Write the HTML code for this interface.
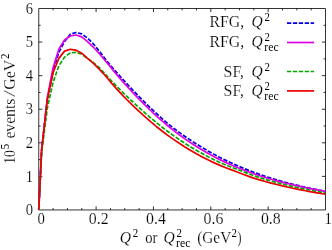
<!DOCTYPE html>
<html><head><meta charset="utf-8"><title>plot</title>
<style>html,body{margin:0;padding:0;background:#fff;}body{width:332px;height:250px;overflow:hidden;position:relative;font-family:"Liberation Serif",serif;}</style>
</head><body>
<svg width="332" height="250" viewBox="0 0 332 250" style="position:absolute;left:0;top:0;will-change:transform">
<rect width="332" height="250" fill="#fff"/>
<path d="M38.75 8.50 H325.50 V209.95 H38.75 Z M53.09 209.95 v-1.9 M53.09 8.50 v1.9 M67.42 209.95 v-1.9 M67.42 8.50 v1.9 M81.76 209.95 v-1.9 M81.76 8.50 v1.9 M96.10 209.95 v-3.6 M96.10 8.50 v3.6 M110.44 209.95 v-1.9 M110.44 8.50 v1.9 M124.78 209.95 v-1.9 M124.78 8.50 v1.9 M139.11 209.95 v-1.9 M139.11 8.50 v1.9 M153.45 209.95 v-3.6 M153.45 8.50 v3.6 M167.79 209.95 v-1.9 M167.79 8.50 v1.9 M182.12 209.95 v-1.9 M182.12 8.50 v1.9 M196.46 209.95 v-1.9 M196.46 8.50 v1.9 M210.80 209.95 v-3.6 M210.80 8.50 v3.6 M225.14 209.95 v-1.9 M225.14 8.50 v1.9 M239.47 209.95 v-1.9 M239.47 8.50 v1.9 M253.81 209.95 v-1.9 M253.81 8.50 v1.9 M268.15 209.95 v-3.6 M268.15 8.50 v3.6 M282.49 209.95 v-1.9 M282.49 8.50 v1.9 M296.82 209.95 v-1.9 M296.82 8.50 v1.9 M311.16 209.95 v-1.9 M311.16 8.50 v1.9 M38.75 193.16 h1.9 M325.50 193.16 h-1.9 M38.75 176.38 h3.6 M325.50 176.38 h-3.6 M38.75 159.59 h1.9 M325.50 159.59 h-1.9 M38.75 142.80 h3.6 M325.50 142.80 h-3.6 M38.75 126.01 h1.9 M325.50 126.01 h-1.9 M38.75 109.23 h3.6 M325.50 109.23 h-3.6 M38.75 92.44 h1.9 M325.50 92.44 h-1.9 M38.75 75.65 h3.6 M325.50 75.65 h-3.6 M38.75 58.86 h1.9 M325.50 58.86 h-1.9 M38.75 42.07 h3.6 M325.50 42.07 h-3.6 M38.75 25.29 h1.9 M325.50 25.29 h-1.9" stroke="#000" stroke-width="0.80" fill="none"/>
<g fill="none" stroke-width="1.70" stroke-linejoin="round">
<path d="M38.75 209.80 L41.62 150.00 L47.35 99.47 L53.09 70.72 L58.82 52.38 L64.56 41.46 L70.29 34.30 L76.03 32.50 L81.76 33.90 L87.50 38.00 L93.23 43.80 L98.97 50.73 L104.70 58.30 L110.44 65.32 L116.17 71.90 L121.91 78.31 L127.64 84.66 L133.38 90.72 L139.11 96.67 L144.85 102.46 L150.58 108.02 L156.32 113.40 L162.05 118.57 L167.79 123.51 L173.52 128.10 L179.26 132.38 L184.99 136.45 L190.73 140.32 L196.46 144.00 L202.20 147.52 L207.93 150.91 L213.67 154.13 L219.40 157.18 L225.14 160.07 L230.87 162.80 L236.61 165.39 L242.34 167.83 L248.08 170.15 L253.81 172.33 L259.55 174.39 L265.28 176.34 L271.02 178.17 L276.75 179.90 L282.49 181.53 L288.22 183.07 L293.96 184.54 L299.69 185.93 L305.43 187.26 L311.16 188.50 L316.90 189.67 L322.63 190.77 L325.50 191.30" stroke="#0000e2" stroke-dasharray="4.3 1.6"/>
<path d="M38.75 209.80 L41.62 150.00 L47.35 97.47 L53.09 67.72 L58.82 49.18 L64.56 39.96 L70.29 36.00 L76.03 35.01 L81.76 36.87 L87.50 41.55 L93.23 47.03 L98.97 53.24 L104.70 59.93 L110.44 66.91 L116.17 73.90 L121.91 80.63 L127.64 87.02 L133.38 93.18 L139.11 99.16 L144.85 104.94 L150.58 110.50 L156.32 115.82 L162.05 120.90 L167.79 125.74 L173.52 130.34 L179.26 134.71 L184.99 138.85 L190.73 142.78 L196.46 146.49 L202.20 150.00 L207.93 153.31 L213.67 156.43 L219.40 159.37 L225.14 162.14 L230.87 164.75 L236.61 167.21 L242.34 169.53 L248.08 171.71 L253.81 173.76 L259.55 175.69 L265.28 177.51 L271.02 179.22 L276.75 180.84 L282.49 182.36 L288.22 183.80 L293.96 185.16 L299.69 186.44 L305.43 187.66 L311.16 188.81 L316.90 189.90 L322.63 190.93 L325.50 191.43" stroke="#e000e4"/>
<path d="M38.75 209.80 L41.62 153.00 L47.35 107.97 L53.09 82.34 L58.82 65.88 L64.56 57.10 L70.29 52.89 L76.03 52.31 L81.76 54.30 L87.50 58.31 L93.23 62.42 L98.97 67.46 L104.70 73.38 L110.44 79.78 L116.17 85.79 L121.91 91.59 L127.64 97.16 L133.38 102.50 L139.11 107.72 L144.85 112.84 L150.58 117.78 L156.32 122.53 L162.05 127.09 L167.79 131.46 L173.52 135.62 L179.26 139.59 L184.99 143.37 L190.73 146.95 L196.46 150.36 L202.20 153.58 L207.93 156.64 L213.67 159.53 L219.40 162.26 L225.14 164.71 L230.87 167.02 L236.61 169.17 L242.34 171.33 L248.08 173.53 L253.81 175.63 L259.55 177.61 L265.28 179.36 L271.02 181.01 L276.75 182.57 L282.49 184.04 L288.22 185.45 L293.96 186.77 L299.69 188.04 L305.43 189.24 L311.16 190.38 L316.90 191.47 L322.63 192.50 L325.50 193.00" stroke="#00aa00" stroke-dasharray="4.3 1.6"/>
<path d="M38.75 209.80 L41.62 150.00 L47.35 99.22 L53.09 72.71 L58.82 58.37 L64.56 51.15 L70.29 49.29 L76.03 50.17 L81.76 53.17 L87.50 58.43 L93.23 63.21 L98.97 68.85 L104.70 75.00 L110.44 81.82 L116.17 88.33 L121.91 94.56 L127.64 100.47 L133.38 106.07 L139.11 111.46 L144.85 116.69 L150.58 121.69 L156.32 126.46 L162.05 131.00 L167.79 135.32 L173.52 139.42 L179.26 143.31 L184.99 147.00 L190.73 150.49 L196.46 153.79 L202.20 156.90 L207.93 159.85 L213.67 162.62 L219.40 165.13 L225.14 167.47 L230.87 169.65 L236.61 171.79 L242.34 174.00 L248.08 176.11 L253.81 178.09 L259.55 179.87 L265.28 181.51 L271.02 183.06 L276.75 184.52 L282.49 185.91 L288.22 187.22 L293.96 188.46 L299.69 189.63 L305.43 190.74 L311.16 191.79 L316.90 192.79 L322.63 193.74 L325.50 194.19" stroke="#ec0000"/>
</g>
<path d="M287.0 23.1 H314.1" stroke="#0000e2" stroke-width="1.70" fill="none" stroke-dasharray="4.3 1.6"/>
<path d="M287.0 42.5 H314.1" stroke="#e000e4" stroke-width="1.70" fill="none"/>
<path d="M287.0 71.5 H314.1" stroke="#00aa00" stroke-width="1.70" fill="none" stroke-dasharray="4.3 1.6"/>
<path d="M287.0 90.9 H314.1" stroke="#ec0000" stroke-width="1.70" fill="none"/>
<g font-family="'Liberation Serif', serif" fill="#000" stroke="#fff" stroke-width="0.18">
<text x="25.8" y="215.0" font-size="16.0" textLength="7.3" lengthAdjust="spacingAndGlyphs">0</text>
<text x="25.8" y="181.5" font-size="16.0" textLength="7.3" lengthAdjust="spacingAndGlyphs">1</text>
<text x="25.8" y="147.9" font-size="16.0" textLength="7.3" lengthAdjust="spacingAndGlyphs">2</text>
<text x="25.8" y="114.3" font-size="16.0" textLength="7.3" lengthAdjust="spacingAndGlyphs">3</text>
<text x="25.8" y="80.8" font-size="16.0" textLength="7.3" lengthAdjust="spacingAndGlyphs">4</text>
<text x="25.8" y="47.2" font-size="16.0" textLength="7.3" lengthAdjust="spacingAndGlyphs">5</text>
<text x="25.8" y="13.6" font-size="16.0" textLength="7.3" lengthAdjust="spacingAndGlyphs">6</text>
<text x="37.6" y="223.9" font-size="16.0" textLength="7.4" lengthAdjust="spacingAndGlyphs">0</text>
<text x="88.8" y="223.9" font-size="16.0" textLength="19.8" lengthAdjust="spacingAndGlyphs">0.2</text>
<text x="146.1" y="223.9" font-size="16.0" textLength="19.8" lengthAdjust="spacingAndGlyphs">0.4</text>
<text x="203.5" y="223.9" font-size="16.0" textLength="19.8" lengthAdjust="spacingAndGlyphs">0.6</text>
<text x="260.9" y="223.9" font-size="16.0" textLength="19.8" lengthAdjust="spacingAndGlyphs">0.8</text>
<text x="324.4" y="223.9" font-size="16.0" textLength="7.4" lengthAdjust="spacingAndGlyphs">1</text>
<text x="209.6" y="27.0" font-size="16.0" textLength="34.6" lengthAdjust="spacingAndGlyphs">RFG,</text>
<text x="209.6" y="47.0" font-size="16.0" textLength="34.6" lengthAdjust="spacingAndGlyphs">RFG,</text>
<text x="223.6" y="76.5" font-size="16.0" textLength="20.4" lengthAdjust="spacingAndGlyphs">SF,</text>
<text x="223.6" y="96.0" font-size="16.0" textLength="20.4" lengthAdjust="spacingAndGlyphs">SF,</text>
<text x="251.6" y="27.0" font-size="16.0" font-style="italic" textLength="11.2" lengthAdjust="spacingAndGlyphs">Q</text>
<text x="264.6" y="21.0" font-size="12.0" textLength="5.4" lengthAdjust="spacingAndGlyphs" stroke="none">2</text>
<text x="251.6" y="47.0" font-size="16.0" font-style="italic" textLength="11.2" lengthAdjust="spacingAndGlyphs">Q</text>
<text x="264.6" y="41.0" font-size="12.0" textLength="5.4" lengthAdjust="spacingAndGlyphs" stroke="none">2</text>
<text x="264.3" y="50.7" font-size="11.5" textLength="14.3" lengthAdjust="spacingAndGlyphs" stroke="none">rec</text>
<text x="251.6" y="76.5" font-size="16.0" font-style="italic" textLength="11.2" lengthAdjust="spacingAndGlyphs">Q</text>
<text x="264.6" y="70.5" font-size="12.0" textLength="5.4" lengthAdjust="spacingAndGlyphs" stroke="none">2</text>
<text x="251.6" y="96.0" font-size="16.0" font-style="italic" textLength="11.2" lengthAdjust="spacingAndGlyphs">Q</text>
<text x="264.6" y="90.0" font-size="12.0" textLength="5.4" lengthAdjust="spacingAndGlyphs" stroke="none">2</text>
<text x="264.3" y="99.7" font-size="11.5" textLength="14.3" lengthAdjust="spacingAndGlyphs" stroke="none">rec</text>
<text x="119.8" y="243.4" font-size="16.0" font-style="italic" textLength="11.2" lengthAdjust="spacingAndGlyphs">Q</text>
<text x="132.8" y="237.4" font-size="12.0" textLength="5.4" lengthAdjust="spacingAndGlyphs" stroke="none">2</text>
<text x="145.2" y="243.4" font-size="16.0" textLength="12.2" lengthAdjust="spacingAndGlyphs">or</text>
<text x="163.4" y="243.4" font-size="16.0" font-style="italic" textLength="11.2" lengthAdjust="spacingAndGlyphs">Q</text>
<text x="176.4" y="237.4" font-size="12.0" textLength="5.4" lengthAdjust="spacingAndGlyphs" stroke="none">2</text>
<text x="176.1" y="247.1" font-size="11.5" textLength="14.3" lengthAdjust="spacingAndGlyphs" stroke="none">rec</text>
<text x="197.2" y="243.4" font-size="16.0" textLength="34.0" lengthAdjust="spacingAndGlyphs">(GeV</text>
<text x="231.6" y="237.4" font-size="12.0" textLength="5.4" lengthAdjust="spacingAndGlyphs" stroke="none">2</text>
<text x="237.6" y="243.4" font-size="16.0" textLength="4.0" lengthAdjust="spacingAndGlyphs">)</text>
<g transform="translate(15.3,163.8) rotate(-90)">
<text x="0.0" y="0.0" font-size="16.0" textLength="13.6" lengthAdjust="spacingAndGlyphs">10</text>
<text x="14.6" y="-6.0" font-size="12.0" textLength="5.4" lengthAdjust="spacingAndGlyphs" stroke="none">5</text>
<text x="25.2" y="0.0" font-size="16.0" textLength="40.0" lengthAdjust="spacingAndGlyphs">events</text>
<text x="66.8" y="0.0" font-size="16.0" textLength="7.0" lengthAdjust="spacingAndGlyphs">/</text>
<text x="74.0" y="0.0" font-size="16.0" textLength="30.0" lengthAdjust="spacingAndGlyphs">GeV</text>
<text x="104.8" y="-6.0" font-size="12.0" textLength="5.4" lengthAdjust="spacingAndGlyphs" stroke="none">2</text>
</g>
</g>
</svg>
</body></html>
